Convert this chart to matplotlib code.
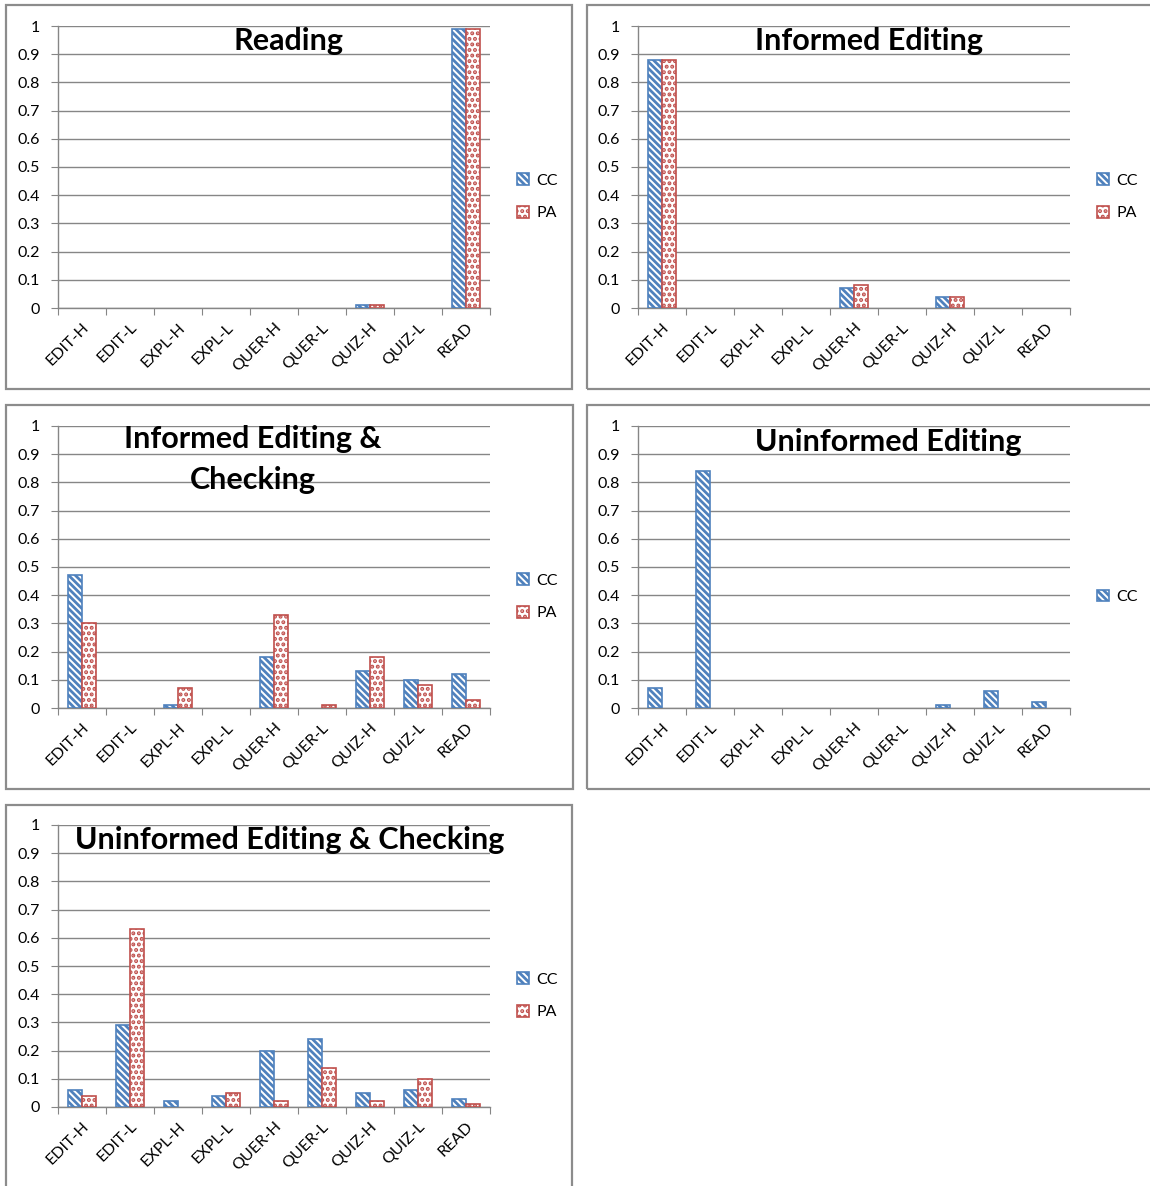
import matplotlib
matplotlib.use("Agg")
import matplotlib.pyplot as plt
from matplotlib.patches import Rectangle
import numpy as np

plt.rcParams['font.family'] = ['Lato', 'DejaVu Sans']
plt.rcParams['hatch.linewidth'] = 2.0

categories = ["EDIT-H", "EDIT-L", "EXPL-H", "EXPL-L", "QUER-H",
              "QUER-L", "QUIZ-H", "QUIZ-L", "READ"]

reading_cc = [0, 0, 0, 0, 0, 0, 0.01, 0, 0.99]
reading_pa = [0, 0, 0, 0, 0, 0, 0.01, 0, 0.99]

informed_cc = [0.88, 0, 0, 0, 0.07, 0, 0.04, 0, 0]
informed_pa = [0.88, 0, 0, 0, 0.08, 0, 0.04, 0, 0]

informed_chk_cc = [0.47, 0, 0.01, 0, 0.18, 0, 0.13, 0.10, 0.12]
informed_chk_pa = [0.30, 0, 0.07, 0, 0.33, 0.01, 0.18, 0.08, 0.03]

uninformed_cc = [0.07, 0.84, 0, 0, 0, 0, 0.01, 0.06, 0.02]

uninformed_chk_cc = [0.06, 0.29, 0.02, 0.04, 0.20, 0.24, 0.05, 0.06, 0.03]
uninformed_chk_pa = [0.04, 0.63, 0, 0.05, 0.02, 0.14, 0.02, 0.10, 0.01]

yticks = [0, 0.1, 0.2, 0.3, 0.4, 0.5, 0.6, 0.7, 0.8, 0.9, 1]
ytick_labels = ["0", "0.1", "0.2", "0.3", "0.4", "0.5", "0.6", "0.7", "0.8", "0.9", "1"]

BLUE = "#4F81BD"
RED = "#C0504D"
GRID = "#868686"

W, H = 1150, 1186
fig = plt.figure(figsize=(W / 100, H / 100), dpi=100)


def px_rect(x0, y0, x1, y1):
    return [x0 / W, 1 - y1 / H, (x1 - x0) / W, (y1 - y0) / H]


# outer frames of each chart
frames = [(6, 5, 572, 389), (587, 5, 1152, 389), (6, 405, 573, 789),
          (587, 405, 1152, 789), (6, 805, 572, 1190)]
for x0, y0, x1, y1 in frames:
    fig.add_artist(Rectangle((x0 / W, 1 - y1 / H), (x1 - x0) / W, (y1 - y0) / H,
                             transform=fig.transFigure, fill=False,
                             edgecolor="#8C8C8C", linewidth=1.6))


def draw_series(ax, vals, offset, color, hatch, label):
    # zero values get no bar at all
    vals = np.asarray(vals, dtype=float)
    idx = np.nonzero(vals > 0)[0]
    return ax.bar(idx + 0.5 + offset, vals[idx], width=0.295, facecolor="white",
                  edgecolor=color, hatch=hatch, linewidth=1.2, label=label, zorder=3)


def panel(rect, title_lines, title_xy, cc, pa=None):
    ax = fig.add_axes(px_rect(*rect))
    n = len(categories)
    w = 0.295
    handles = [draw_series(ax, cc, -w / 2, BLUE, "\\\\\\\\\\", "CC")]
    if pa is not None:
        handles.append(draw_series(ax, pa, w / 2, RED, "...", "PA"))

    ax.set_xlim(0, n)
    ax.set_ylim(0, 1)
    ax.set_yticks(yticks)
    ax.set_yticklabels(ytick_labels)
    ax.yaxis.grid(True, color=GRID, linewidth=1.0)
    ax.set_axisbelow(True)
    for s in ["top", "right"]:
        ax.spines[s].set_visible(False)
    for s in ["left", "bottom"]:
        ax.spines[s].set_color(GRID)
        ax.spines[s].set_linewidth(1.0)

    ax.set_xticks(np.arange(n + 1))
    ax.set_xticklabels([])
    ax.set_xticks(np.arange(n) + 0.5, minor=True)
    ax.set_xticklabels(categories, minor=True, rotation=45, ha="right",
                       va="top", rotation_mode="anchor", fontsize=11.5)
    ax.tick_params(axis="x", which="major", length=5, color=GRID, direction="out")
    ax.tick_params(axis="x", which="minor", length=0, pad=9)
    ax.tick_params(axis="y", length=5, color=GRID, labelsize=11.5, pad=8)

    for i, line in enumerate(title_lines):
        ax.text(title_xy[0], title_xy[1] - i * 41, line, transform=None,
                ha="center", va="center", fontsize=22, fontweight="bold")

    ax.legend(handles=handles, loc="center left", bbox_to_anchor=(1.03, 0.394),
              frameon=False, fontsize=11.5, handlelength=0.75, handleheight=0.75,
              handletextpad=0.45, labelspacing=1.15)
    return ax


panel((58, 26, 490, 308), ["Reading"], (289, H - 41), reading_cc, reading_pa)
panel((638, 26, 1070, 308), ["Informed Editing"], (869, H - 41), informed_cc, informed_pa)
panel((58, 426, 490, 708), ["Informed Editing &", "Checking"], (253, H - 439),
      informed_chk_cc, informed_chk_pa)
panel((638, 426, 1070, 708), ["Uninformed Editing"], (888, H - 442), uninformed_cc)
panel((58, 825, 490, 1107), ["Uninformed Editing & Checking"], (290, H - 840),
      uninformed_chk_cc, uninformed_chk_pa)

fig.savefig("out.png", dpi=100)
